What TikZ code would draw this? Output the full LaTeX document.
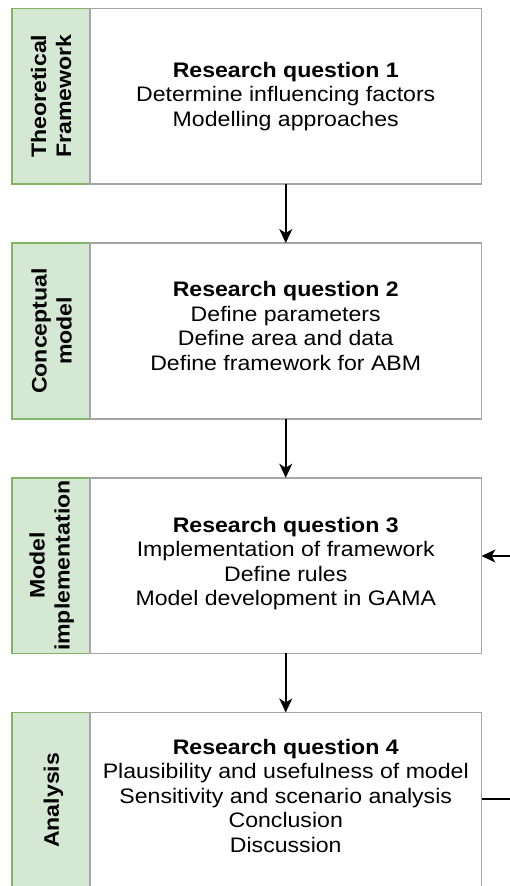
\documentclass[tikz,border=0pt]{standalone}
\usepackage{fontspec}
\setmainfont{Liberation Sans}[FakeStretch=1.1]
\usetikzlibrary{arrows.meta}
\definecolor{phasefill}{HTML}{D5E8D4}
\definecolor{phaseline}{HTML}{82B366}
\definecolor{boxline}{HTML}{A6A6A6}
\begin{document}
\begin{tikzpicture}[x=1pt,y=-1pt,
  phase/.style={draw=phaseline, fill=phasefill, line width=1.5pt,
    minimum width=78pt, minimum height=175.7pt, inner sep=0pt, outer sep=0pt},
  stage/.style={draw=boxline, fill=white, line width=1.5pt,
    minimum width=391.5pt, minimum height=175.7pt, inner sep=0pt, outer sep=0pt},
  phasetext/.style={rotate=90, align=center, inner sep=0pt,
    font=\fontsize{21}{25}\selectfont\bfseries},
  stagetext/.style={anchor=north, align=center, inner sep=0pt,
    font=\fontsize{21}{24.5}\selectfont},
  flow/.style={line width=1.6pt, -{Stealth[length=14pt,width=13pt,inset=4pt]}}]

\clip (0,0) rectangle (510,886);

% four stages, each with a green phase tab on the left
\node[phase] (p1) at (51,96.2) {};
\node[stage] (b1) at (285.75,96.2) {};
\node[phase] (p2) at (51,330.9) {};
\node[stage] (b2) at (285.75,330.9) {};
\node[phase] (p3) at (51,565.6) {};
\node[stage] (b3) at (285.75,565.6) {};
\node[phase] (p4) at (51,800.3) {};
\node[stage] (b4) at (285.75,800.3) {};

% phase names
\node[phasetext] (l1) at (51,96.2) {Theoretical\\Framework};
\node[phasetext] (l2) at (51.7,330.9) {Conceptual\\model};
\node[phasetext] (l3) at (51.7,565.6) {Model\\implementation};
\node[phasetext] (l4) at (53.5,800.3) {Analysis};

% stage contents
\node[stagetext] (t1) at (285.75,62) {\textbf{Research question 1}\\
  Determine influencing factors\\Modelling approaches};
\node[stagetext] (t2) at (285.75,281.5) {\textbf{Research question 2}\\
  Define parameters\\Define area and data\\Define framework for ABM};
\node[stagetext] (t3) at (285.75,516.8) {\textbf{Research question 3}\\
  Implementation of framework\\Define rules\\Model development in GAMA};
\node[stagetext] (t4) at (285.75,738.8) {\textbf{Research question 4}\\
  Plausibility and usefulness of model\\Sensitivity and scenario analysis\\
  Conclusion\\Discussion};

% main flow
\draw[flow] (b1.south) -- (b2.north);
\draw[flow] (b2.south) -- (b3.north);
\draw[flow] (b3.south) -- (b4.north);

% feedback loop from analysis back to implementation
\coordinate (loopBot) at (530,799);
\coordinate (loopTop) at (530,556);
\draw[flow] (b4.east |- loopBot) -- (loopBot) -- (loopTop) -- (b3.east |- loopTop);
\end{tikzpicture}
\end{document}
